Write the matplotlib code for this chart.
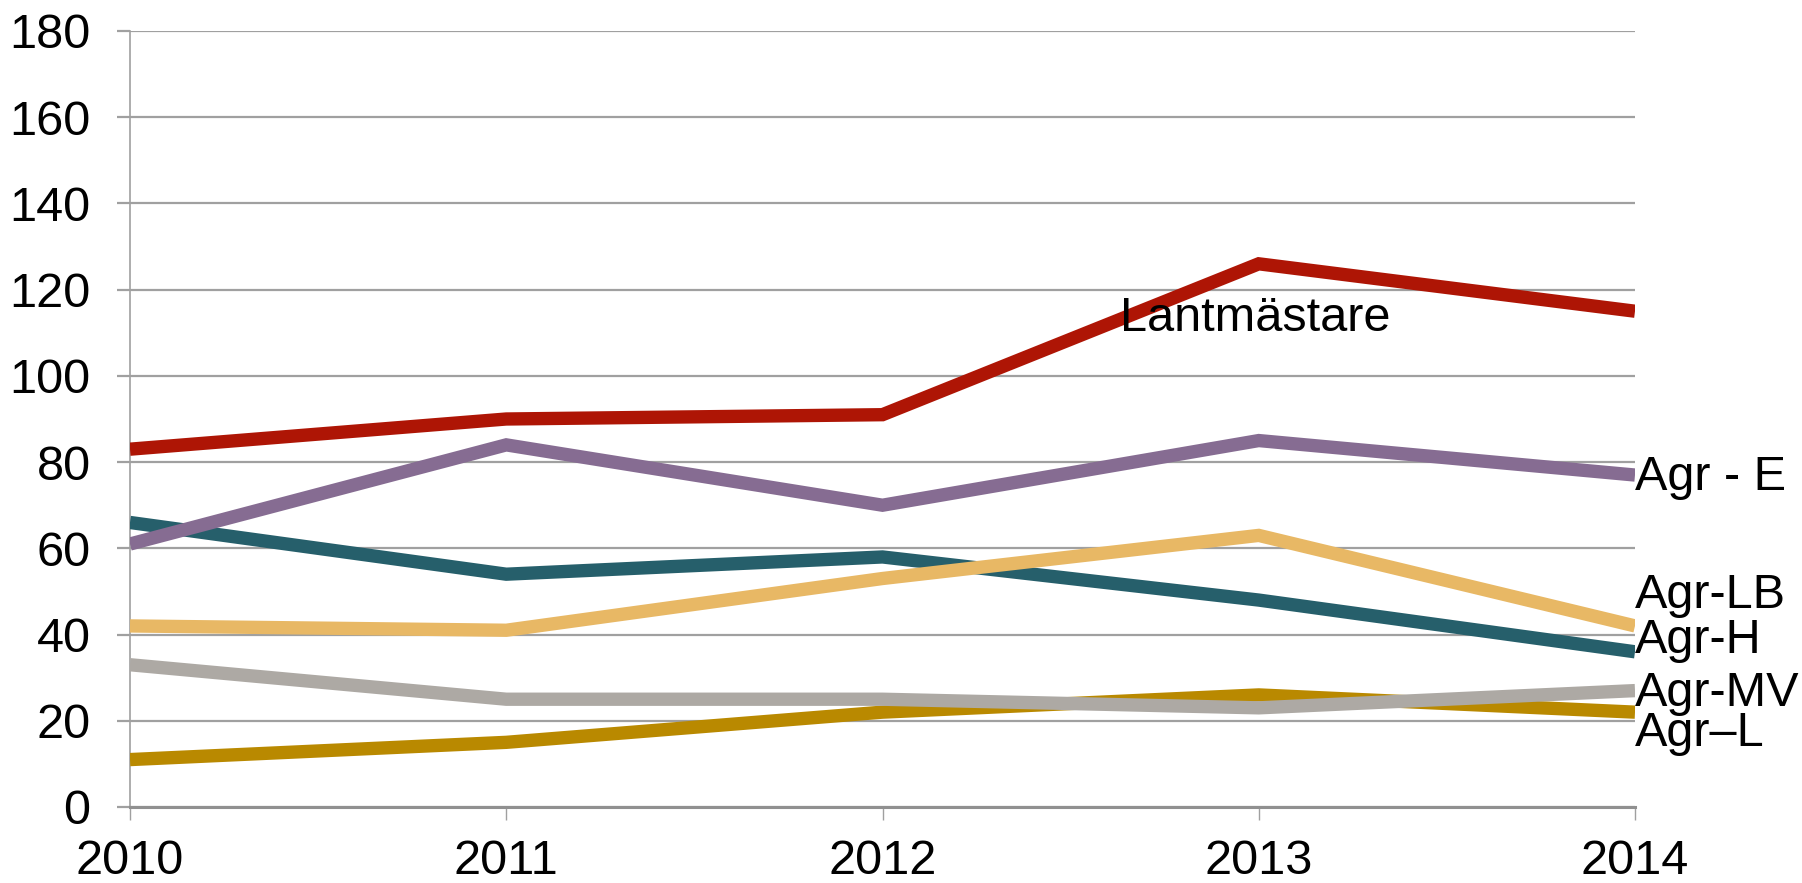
import numpy as np
import matplotlib
matplotlib.use('Agg')
import matplotlib.pyplot as plt

plt.rcParams['font.family'] = ['Liberation Sans', 'DejaVu Sans']
plt.rcParams['font.size'] = 35

years = [2010, 2011, 2012, 2013, 2014]
lantmastare = [83, 90, 91, 126, 115]
agr_e = [61, 84, 70, 85, 77]
agr_h = [66, 54, 58, 48, 36]
agr_lb = [42, 41, 53, 63, 42]
agr_mv = [33, 25, 25, 23, 27]
agr_l = [11, 15, 22, 26, 22]

# draw order: back to front
series = [
    (agr_l, '#B98900'),
    (agr_mv, '#ADA9A4'),
    (agr_h, '#265F6B'),
    (agr_lb, '#E8B865'),
    (agr_e, '#866C92'),
    (lantmastare, '#AE1505'),
]

fig = plt.figure(figsize=(18.02, 8.83), dpi=100)
ax = fig.add_axes([130/1802, 1-807/883, 1505/1802, 776/883])

for vals, col in series:
    ax.plot(years, vals, color=col, lw=9.6, solid_capstyle='butt', solid_joinstyle='miter', zorder=3)

ax.set_xlim(2010, 2014)
ax.set_ylim(0, 180)
ax.set_yticks(np.arange(0, 181, 20))
ax.set_xticks(years)
ax.grid(axis='y', color='#A0A0A0', lw=1.6, zorder=1)
for s in ['top', 'right']:
    ax.spines[s].set_visible(False)
ax.spines['left'].set_color('#A0A0A0')
ax.spines['left'].set_linewidth(1.2)
ax.spines['bottom'].set_color('#909090')
ax.spines['bottom'].set_linewidth(2.2)
ax.tick_params(axis='y', length=9.4, width=1.6, color='#A0A0A0', pad=19)
ax.tick_params(axis='x', length=9, width=1.0, color='#A0A0A0', pad=14)

# labels
ax.text(2012.63, 113.3, 'Lantmästare', ha='left', va='center', zorder=4)
ax.text(2014, 76.5, 'Agr - E', ha='left', va='center', clip_on=False)
ax.text(2014, 49, 'Agr-LB', ha='left', va='center', clip_on=False)
ax.text(2014, 38.7, 'Agr-H', ha='left', va='center', clip_on=False)
ax.text(2014, 26.4, 'Agr-MV', ha='left', va='center', clip_on=False)
ax.text(2014, 17, 'Agr–L', ha='left', va='center', clip_on=False)

fig.savefig('out.png', dpi=100)
